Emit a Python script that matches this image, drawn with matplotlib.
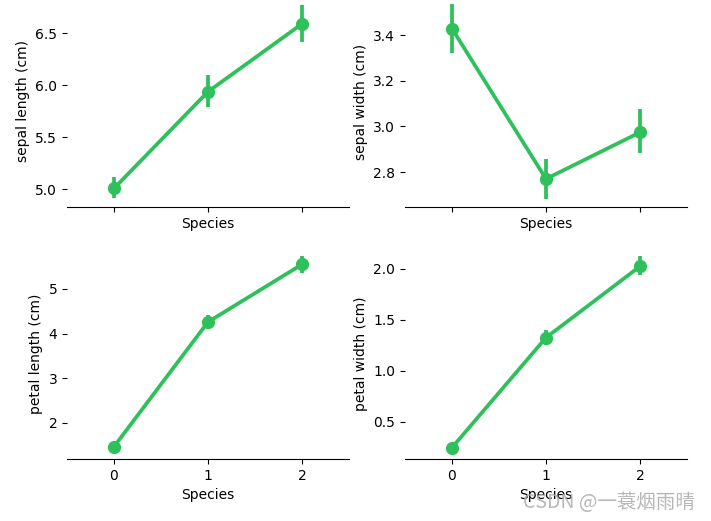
import matplotlib.pyplot as plt

# iris means per species (0, 1, 2) with 95% CI bounds
species = [0, 1, 2]
features = ["sepal length (cm)", "sepal width (cm)", "petal length (cm)", "petal width (cm)"]

sepal_length = [5.006, 5.936, 6.588]
sepal_length_lo = [4.913, 5.785, 6.41]
sepal_length_hi = [5.115, 6.093, 6.77]

sepal_width = [3.428, 2.770, 2.974]
sepal_width_lo = [3.32, 2.682, 2.885]
sepal_width_hi = [3.536, 2.856, 3.076]

petal_length = [1.462, 4.260, 5.552]
petal_length_lo = [1.41, 4.10, 5.37]
petal_length_hi = [1.51, 4.42, 5.74]

petal_width = [0.246, 1.326, 2.026]
petal_width_lo = [0.22, 1.25, 1.94]
petal_width_hi = [0.28, 1.40, 2.13]

means = [sepal_length, sepal_width, petal_length, petal_width]
lows = [sepal_length_lo, sepal_width_lo, petal_length_lo, petal_width_lo]
highs = [sepal_length_hi, sepal_width_hi, petal_length_hi, petal_width_hi]
ylims = [(4.827, 6.856), (2.647, 3.571), (1.185, 5.92), (0.134, 2.206)]

color = "#2ec05a"

fig = plt.figure(figsize=(7.11, 5.21), dpi=100)
W, H = 711, 521
# axes boxes in pixels: left, top, width, height
boxes = [(67, -4, 282, 211), (405, -4, 282, 211),
         (67, 248, 282, 211), (405, 248, 282, 211)]

for i, (l, t, w, h) in enumerate(boxes):
    ax = fig.add_axes([l / W, (H - t - h) / H, w / W, h / H])
    ax.plot(species, means[i], color=color, lw=2.7, marker="o", ms=8.5, zorder=3)
    ax.vlines(species, lows[i], highs[i], color=color, lw=2.7, zorder=3)
    ax.set_xlim(-0.5, 2.5)
    ax.set_ylim(*ylims[i])
    ax.set_xticks(species)
    if i < 2:
        ax.tick_params(axis="x", labelbottom=False)  # shared x, labels only on bottom row
    ax.set_xlabel("Species")
    ax.set_ylabel(features[i])
    for s in ["top", "right", "left"]:
        ax.spines[s].set_visible(False)

fig.text(695 / W, 1 - 502 / H, "CSDN @一蓑烟雨晴", ha="right", va="center",
         fontsize=14, color="#b0b0b0", alpha=0.9,
         family=["Noto Sans CJK SC", "DejaVu Sans"])

fig.savefig("out.png", dpi=100)
